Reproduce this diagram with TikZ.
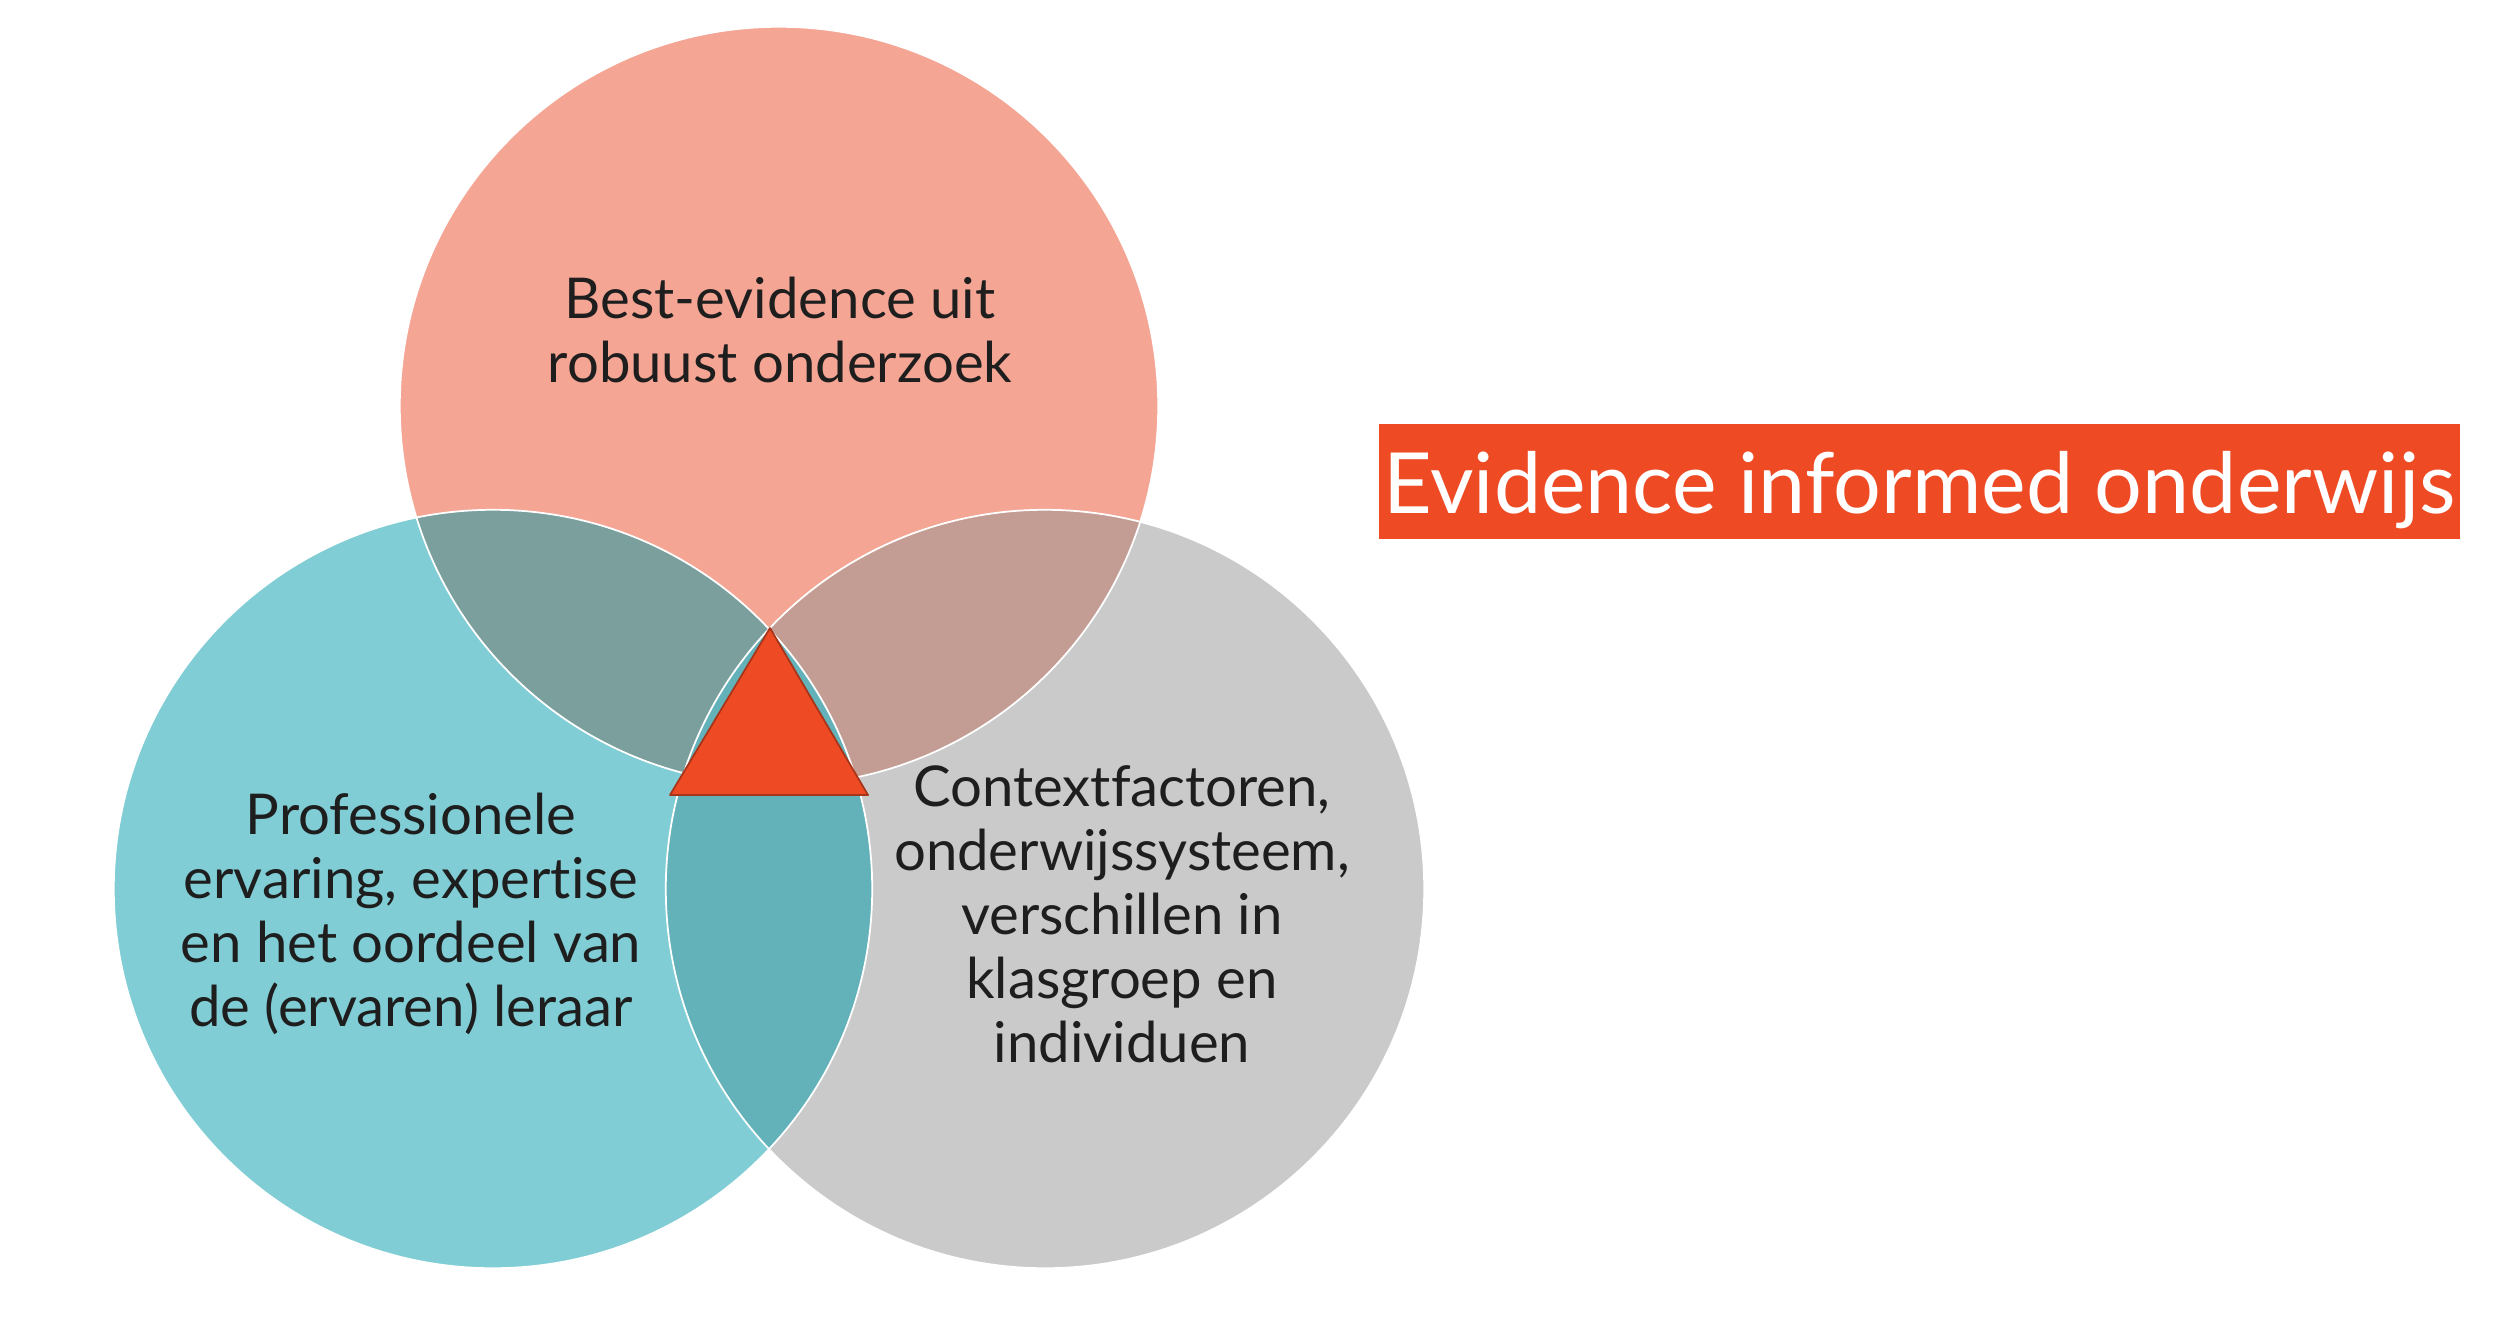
\documentclass[tikz,border=0pt]{standalone}
\usepackage{fontspec}
\setmainfont{Lato}[Ligatures={NoCommon,NoDiscretionary,NoContextual}]
\definecolor{ctop}{HTML}{F4A594}
\definecolor{cleft}{HTML}{80CDD5}
\definecolor{cright}{HTML}{CACACA}
\definecolor{ctl}{HTML}{7A9F9D}
\definecolor{ctr}{HTML}{C39D93}
\definecolor{clr}{HTML}{63B2BA}
\definecolor{corange}{HTML}{EE4B25}
\definecolor{ctext}{HTML}{1E1E1E}
\begin{document}
\begin{tikzpicture}[x=0.01cm,y=-0.01cm,
  venn/.style={circle,inner sep=0pt,minimum size=7.58cm},
  vlabel/.style={align=center,text=ctext,font=\fontsize{16}{18.2}\selectfont},
  rim/.style={draw=white,line width=0.5pt}]
\useasboundingbox (0,0) rectangle (2500,1321);
\fill[white] (0,0) rectangle (2500,1321);
\coordinate (T) at (779,406);
\coordinate (L) at (493,889);
\coordinate (R) at (1045,889);
\node[venn,fill=ctop] (ctopc) at (T) {};
\node[venn,fill=cleft] (cleftc) at (L) {};
\node[venn,fill=cright] (crightc) at (R) {};
\begin{scope}
  \clip (L) circle (3.79cm);
  \fill[clr] (R) circle (3.79cm);
\end{scope}
\begin{scope}
  \clip (T) circle (3.79cm);
  \fill[ctl] (L) circle (3.79cm);
\end{scope}
\begin{scope}
  \clip (T) circle (3.79cm);
  \fill[ctr] (R) circle (3.79cm);
\end{scope}
\begin{scope}
  \clip (T) circle (3.79cm);
  \clip (L) circle (3.79cm);
  \fill[clr] (R) circle (3.79cm);
\end{scope}
\draw[rim] (T) circle (3.79cm);
\draw[rim] (L) circle (3.79cm);
\draw[rim] (R) circle (3.79cm);
\coordinate (ta) at (770,628);
\coordinate (tb) at (670,795);
\coordinate (tc) at (868,795);
\filldraw[fill=corange,draw=corange!70!black,line width=0.5pt,line join=round] (ta) -- (tb) -- (tc) -- cycle;
\node[vlabel] (ttop) at (780,330) {Best-evidence uit\\robuust onderzoek};
\node[vlabel] (tleft) at (411,914) {Professionele\\ervaring, expertise\\en het oordeel van\\de (ervaren) leraar};
\node[vlabel] (tright) at (1122,914) {Contextfactoren,\\onderwijssysteem,\\verschillen in\\klasgroep en\\individuen};
\node[fill=corange,inner sep=0pt,minimum width=10.81cm,minimum height=1.15cm] (title) at (1919.5,481.5) {};
\node[text=white,inner sep=0pt,font=\fontsize{24}{27}\selectfont] (titletext) at (1919.5,490) {Evidence informed onderwijs};
\end{tikzpicture}
\end{document}
